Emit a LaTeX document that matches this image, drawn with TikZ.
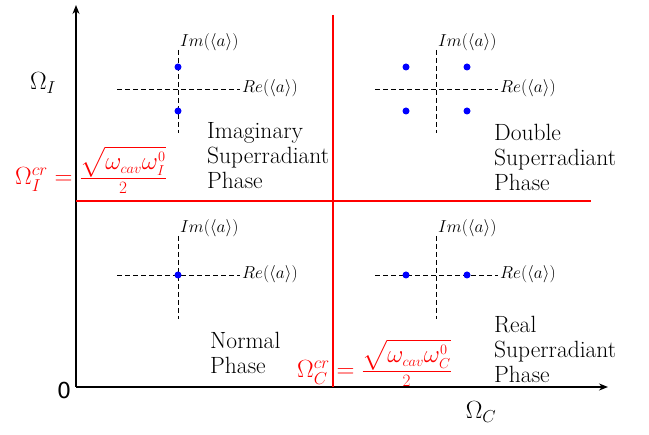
\documentclass[tikz,border=0pt]{standalone}
\usepackage{amsmath}
\usepackage{fontspec}
\newfontfamily\djv{DejaVu Sans}
\usetikzlibrary{arrows.meta}
\DeclareMathSizes{26}{26}{18}{14}
\DeclareMathSizes{24}{24}{15}{12}
\DeclareMathSizes{25}{25}{19}{14}
\newcommand{\numsz}[1]{\mbox{\fontsize{24}{26}\selectfont$#1$}}
\newcommand{\densz}[1]{\mbox{\fontsize{18}{20}\selectfont$#1$}}
\begin{document}
\begin{tikzpicture}[x=1pt,y=-1pt,
  axis/.style={line width=1.8pt,-{Stealth[length=9pt,width=7pt]}},
  crit/.style={red,line width=1.8pt},
  dsh/.style={line width=0.9pt,dash pattern=on 5pt off 3pt},
  dot/.style={circle,fill=blue,inner sep=0pt,minimum size=7pt},
  lbl/.style={font=\fontsize{19}{21}\selectfont,inner sep=0pt},
  phase/.style={font=\fontsize{23.5}{25}\selectfont,align=left,inner sep=0pt},
  big/.style={font=\fontsize{25}{28}\selectfont,inner sep=0pt},
  critlbl/.style={red,font=\fontsize{26}{28}\selectfont,inner sep=0pt,anchor=base west},
  ]
\useasboundingbox (0,0) rectangle (649,435);
\coordinate (O) at (76,387);
\coordinate (ytop) at (76,5);
\coordinate (xend) at (608,387);
\draw[axis] (O) -- (ytop);
\draw[axis] (O) -- (xend);
\coordinate (rv1) at (333,15);
\coordinate (rv2) at (333,387);
\coordinate (rh1) at (76,201);
\coordinate (rh2) at (591,201);
\draw[crit] (rv1) -- (rv2);
\draw[crit] (rh1) -- (rh2);
% crosses
\foreach \n/\cx/\cy in {A/178/89,B/436/89,C/178/275,D/436/275}{
  \coordinate (\n h1) at (\cx-61,\cy);
  \coordinate (\n h2) at (\cx+62,\cy);
  \coordinate (\n v1) at (\cx,\cy-39);
  \coordinate (\n v2) at (\cx,\cy+44);
  \draw[dsh] (\n h1) -- (\n h2);
  \draw[dsh] (\n v1) -- (\n v2);
  \node[lbl,anchor=south west] (\n im) at (\cx+2,\cy-38) {$Im(\langle a\rangle)$};
  \node[lbl,anchor=west] (\n re) at (\cx+64,\cy-1) {$Re(\langle a\rangle)$};
}
\node[dot] (a1) at (178,67) {};
\node[dot] (a2) at (178,111) {};
\node[dot] (b1) at (406,67) {};
\node[dot] (b2) at (467,67) {};
\node[dot] (b3) at (406,111) {};
\node[dot] (b4) at (467,111) {};
\node[dot] (c1) at (178,275) {};
\node[dot] (d1) at (406,275) {};
\node[dot] (d2) at (467,275) {};
% phase labels
\node[phase,anchor=north west] (ph1) at (207,122) {Imaginary\\Superradiant\\Phase};
\node[phase,anchor=north west] (ph2) at (494,124) {Double\\Superradiant\\Phase};
\node[phase,anchor=north west] (ph3) at (210,332) {Normal\\Phase};
\node[phase,anchor=north west] (ph4) at (494,316) {Real\\Superradiant\\Phase};
% axis labels
\node[big] (OI) at (43,83) {$\Omega_I$};
\node[big] (OC) at (481,412) {$\Omega_C$};
\node[font=\fontsize{22}{26}\selectfont\djv,inner sep=0pt] (zero) at (64,390) {0};
% critical labels
\node[critlbl] (cI) at (15,185) {$\Omega_I^{cr}=\frac{\numsz{\sqrt{\omega_{cav}\omega_I^0}}}{\densz{2}}$};
\node[critlbl] (cC) at (297,378) {$\Omega_C^{cr}=\frac{\numsz{\sqrt{\omega_{cav}\omega_C^0}}}{\densz{2}}$};
\end{tikzpicture}
\end{document}
